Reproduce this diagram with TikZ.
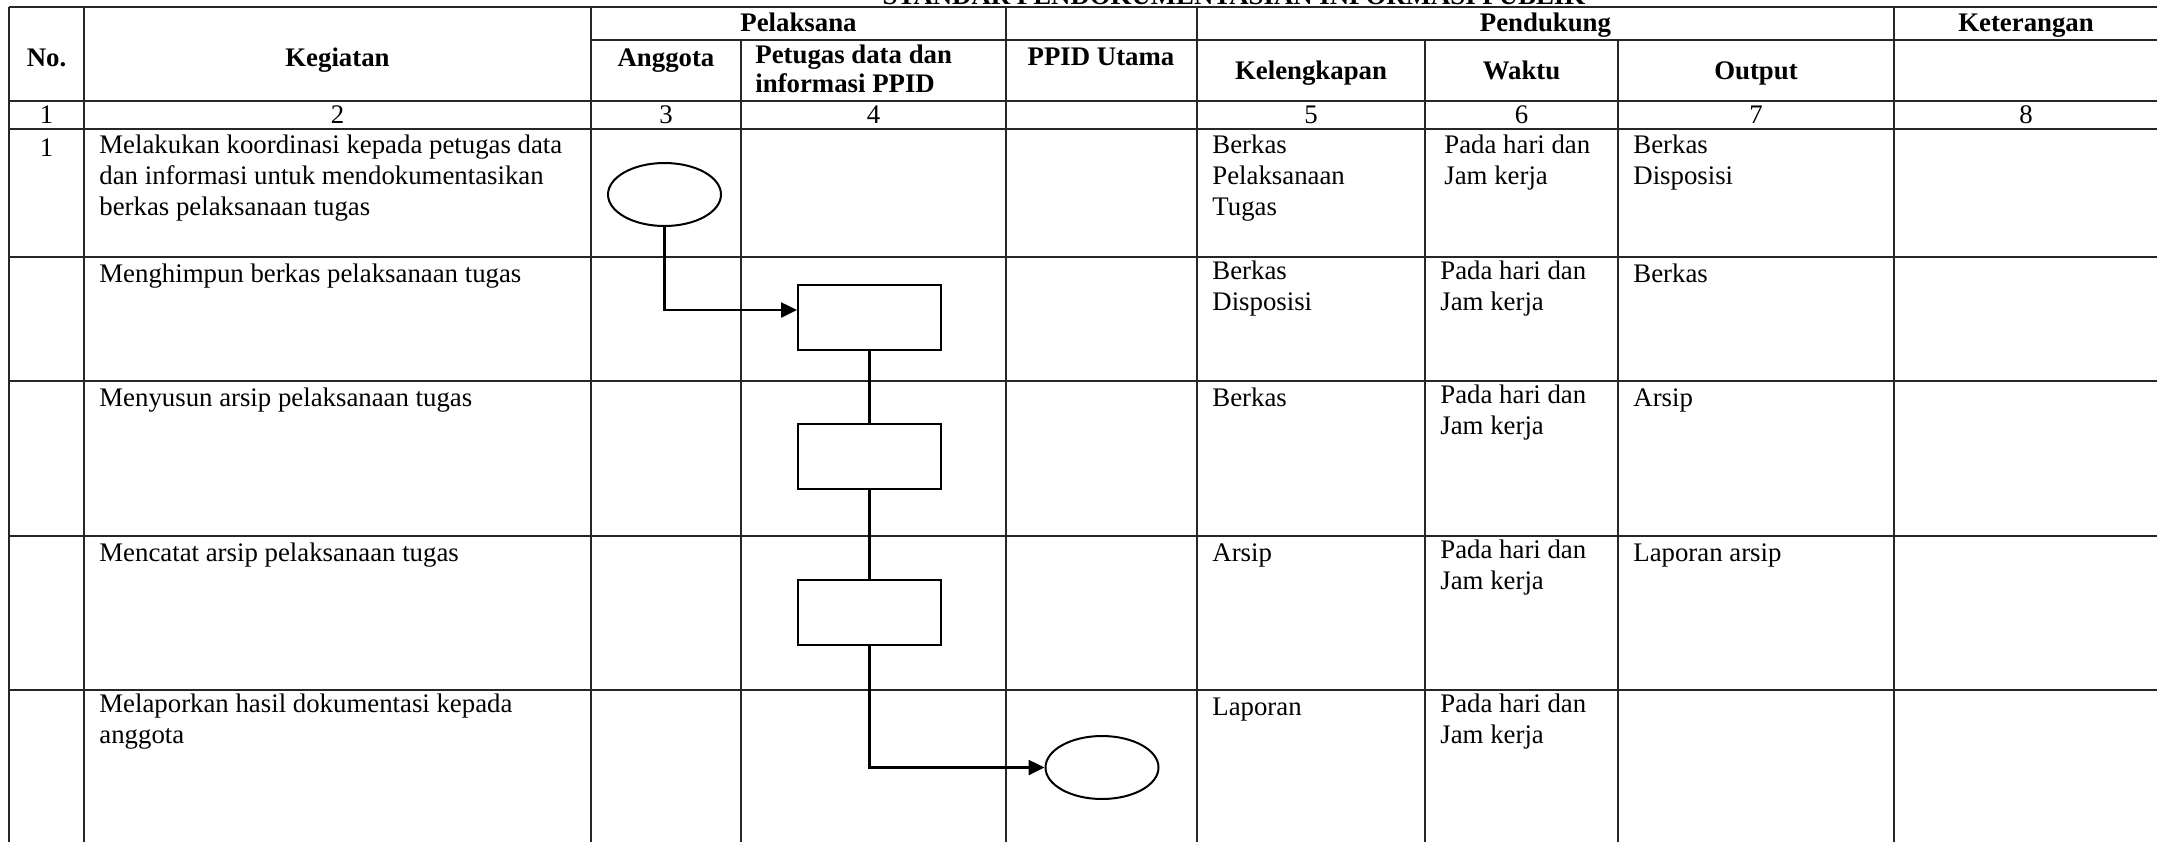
\documentclass[tikz,border=0pt]{standalone}
\usepackage{fontspec}
\setmainfont{Liberation Serif}
\usetikzlibrary{arrows.meta,shapes.geometric}
\begin{document}
\begin{tikzpicture}[x=0.5pt,y=-0.5pt,
  grid/.style={line width=0.6pt, draw=black!85},
  hdr/.style={font=\fontsize{13.4}{14.6}\selectfont\bfseries, inner sep=0pt, anchor=base},
  num/.style={font=\fontsize{13.4}{15.6}\selectfont, inner sep=0pt, anchor=base},
  body/.style={font=\fontsize{13.4}{15.6}\selectfont, inner sep=0pt, align=left, anchor=north west, execute at begin node=\strut},
  procbox/.style={draw, line width=1pt, minimum width=71.5pt, minimum height=32.5pt, inner sep=0pt},
  term/.style={ellipse, draw, line width=1pt, minimum width=56.5pt, minimum height=31.5pt, inner sep=0pt},
  flow/.style={line width=1.25pt},
  flowarrow/.style={flow, -{Triangle[length=8pt,width=7.5pt]}}]
\useasboundingbox (0,0) rectangle (2157,841);

% title (clipped at the top edge)
\node[hdr] (title) at (1234,4.5) {STANDAR PENDOKUMENTASIAN INFORMASI PUBLIK};

% table grid
\draw[grid] (9,7) -- (2158,7);
\draw[grid] (591,40) -- (2158,40);
\foreach \yy in {101,129,257,381,536,690} {\draw[grid] (9,\yy) -- (2158,\yy);}
\foreach \xx in {9,84,591,1006,1197,1894,2158} {\draw[grid] (\xx,7) -- (\xx,845);}
\foreach \xx in {741,1425,1618} {\draw[grid] (\xx,40) -- (\xx,845);}

% header
\node[hdr] (hpel) at (798.5,31) {Pelaksana};
\node[hdr] (hpen) at (1545.5,31) {Pendukung};
\node[hdr] (hket) at (2026,31) {Keterangan};
\node[hdr] (hno) at (46.5,66) {No.};
\node[hdr] (hkeg) at (337.5,66) {Kegiatan};
\node[hdr] (hang) at (666,66) {Anggota};
\node[hdr, anchor=north west, align=left, execute at begin node=\strut] (hpet) at (755,44.6) {Petugas data dan\\informasi PPID};
\node[hdr] (hppid) at (1101,65) {PPID Utama};
\node[hdr] (hkel) at (1311,79) {Kelengkapan};
\node[hdr] (hwak) at (1521.5,79) {Waktu};
\node[hdr] (hout) at (1756,79) {Output};

% column numbers
\node[num] (n1) at (46.5,123.5) {1};
\node[num] (n2) at (337.5,123.5) {2};
\node[num] (n3) at (666,123.5) {3};
\node[num] (n4) at (873.5,123.5) {4};
\node[num] (n5) at (1311,123.5) {5};
\node[num] (n6) at (1521.5,123.5) {6};
\node[num] (n7) at (1756,123.5) {7};
\node[num] (n8) at (2026,123.5) {8};

% row 1
\node[num] (r1no) at (46.5,156) {1};
\node[body] (r1k) at (99,134.5) {Melakukan koordinasi kepada petugas data\\dan informasi untuk mendokumentasikan\\berkas pelaksanaan tugas};
\node[body] (r1l) at (1212,134.5) {Berkas\\Pelaksanaan\\Tugas};
\node[body] (r1w) at (1444,134.5) {Pada hari dan\\Jam kerja};
\node[body] (r1o) at (1633,134.5) {Berkas\\Disposisi};

% row 2
\node[body] (r2k) at (99,260.2) {Menghimpun berkas pelaksanaan tugas};
\node[body] (r2l) at (1212,260.2) {Berkas\\Disposisi};
\node[body] (r2w) at (1440,260.2) {Pada hari dan\\Jam kerja};
\node[body] (r2o) at (1633,260.2) {Berkas};

% row 3
\node[body] (r3k) at (99,384.2) {Menyusun arsip pelaksanaan tugas};
\node[body] (r3l) at (1212,384.2) {Berkas};
\node[body] (r3w) at (1440,384.2) {Pada hari dan\\Jam kerja};
\node[body] (r3o) at (1633,384.2) {Arsip};

% row 4
\node[body] (r4k) at (99,539.2) {Mencatat arsip pelaksanaan tugas};
\node[body] (r4l) at (1212,539.2) {Arsip};
\node[body] (r4w) at (1440,539.2) {Pada hari dan\\Jam kerja};
\node[body] (r4o) at (1633,539.2) {Laporan arsip};

% row 5
\node[body] (r5k) at (99,693.2) {Melaporkan hasil dokumentasi kepada\\anggota};
\node[body] (r5l) at (1212,693.2) {Laporan};
\node[body] (r5w) at (1440,693.2) {Pada hari dan\\Jam kerja};

% flow shapes
\node[term] (e1) at (664.5,194.5) {};
\node[procbox] (b1) at (869.5,317) {};
\node[procbox] (b2) at (869.5,456.5) {};
\node[procbox] (b3) at (869.5,612) {};
\node[term] (e2) at (1102,767.5) {};

% connectors
\draw[flowarrow] (e1.south) |- ([yshift=3.5pt]b1.west);
\draw[flow] (b1.south) -- (b2.north);
\draw[flow] (b2.south) -- (b3.north);
\draw[flowarrow] (b3.south) |- (e2.west);
\end{tikzpicture}
\end{document}
